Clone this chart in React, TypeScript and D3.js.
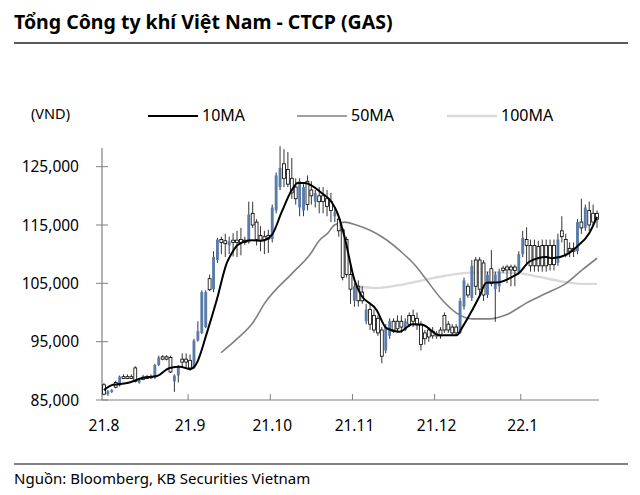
import React from "react";
import * as d3 from "d3";

// ---- data (prices in thousand VND) ----
const monthLabels = ["21.8", "21.9", "21.10", "21.11", "21.12", "22.1"];
const monthStartIndex = [0, 22, 43, 64, 85, 107];
const dayCount = 127;

const openK = [
  87.6, 86.0, 86.4, 88.0, 87.5, 89.0, 89.0, 89.0, 90.5, 88.0,
  88.9, 88.9, 89.0, 88.8, 91.0, 92.4, 92.4, 92.3, 88.2, 89.2,
  92.0, 92.0, 91.8, 90.5, 95.2, 96.5, 97.5, 105.8, 104.0, 109.0,
  112.5, 112.3, 111.5, 112.4, 112.4, 112.5, 112.4, 112.0, 117.0, 115.5,
  113.2, 113.0, 113.2, 112.6, 117.5, 121.5, 125.5, 124.5, 123.0, 121.5,
  118.0, 117.5, 122.5, 121.0, 119.0, 120.0, 120.0, 119.5, 119.0, 116.5,
  116.0, 114.2, 112.5, 106.5, 102.0, 104.5, 103.5, 98.5, 100.5, 99.5,
  99.0, 97.0, 93.5, 96.0, 98.5, 98.5, 98.5, 97.0, 99.5, 99.5,
  99.0, 98.0, 96.5, 97.0, 96.8, 95.8, 97.0, 99.5, 98.0, 97.5,
  97.5, 96.5, 101.0, 104.5, 102.5, 109.0, 109.0, 108.5, 103.0, 107.5,
  104.0, 104.5, 107.6, 107.8, 107.8, 107.8, 107.0, 110.0, 112.5, 111.5,
  111.5, 111.3, 111.5, 111.5, 111.5, 111.5, 108.5, 114.0, 112.5, 111.0,
  111.0, 110.5, 115.5, 114.5, 117.5, 117.0, 117.0,
];
const highK = [
  87.9, 86.7, 86.9, 88.3, 89.2, 89.4, 89.4, 89.4, 90.8, 88.6,
  89.3, 89.3, 89.4, 91.2, 92.6, 92.7, 92.7, 92.6, 89.4, 91.0,
  93.0, 93.0, 92.8, 95.5, 98.5, 103.8, 103.8, 106.5, 110.5, 112.8,
  113.0, 113.5, 113.0, 113.6, 114.0, 114.5, 113.0, 119.0, 119.0, 116.0,
  114.8, 114.0, 114.2, 118.5, 124.0, 128.5, 128.0, 127.5, 126.5, 123.0,
  123.0, 122.0, 123.5, 122.5, 121.0, 121.5, 121.5, 121.0, 120.5, 118.0,
  116.5, 114.5, 113.0, 108.0, 105.0, 105.5, 104.5, 101.5, 101.5, 100.5,
  99.5, 97.5, 98.0, 99.0, 99.0, 99.5, 99.5, 99.0, 100.0, 100.5,
  100.0, 98.5, 97.0, 97.5, 97.5, 96.8, 97.5, 100.0, 98.5, 98.0,
  98.0, 102.5, 106.0, 105.0, 109.0, 109.5, 109.5, 109.0, 107.0, 110.7,
  107.0, 107.5, 108.0, 108.2, 108.2, 108.2, 110.5, 114.0, 114.6, 112.5,
  112.5, 112.3, 112.5, 112.5, 112.5, 112.5, 113.5, 116.5, 113.5, 112.0,
  112.0, 116.0, 119.5, 118.5, 119.0, 118.5, 117.5,
];
const lowK = [
  85.8, 85.7, 86.2, 87.0, 87.3, 88.6, 88.6, 88.6, 88.0, 87.8,
  88.4, 88.6, 88.6, 88.6, 90.8, 91.8, 91.8, 89.6, 86.4, 88.0,
  90.5, 90.5, 90.0, 90.3, 95.0, 96.3, 97.3, 103.7, 103.5, 108.5,
  110.0, 109.5, 110.0, 109.6, 109.5, 109.8, 111.6, 111.8, 114.5, 111.5,
  110.5, 110.0, 110.2, 112.0, 117.0, 121.0, 121.5, 121.5, 119.5, 118.5,
  116.5, 116.5, 117.5, 118.5, 118.0, 117.0, 117.0, 116.5, 115.5, 115.5,
  113.0, 105.5, 106.0, 101.5, 101.0, 101.0, 101.5, 98.0, 97.0, 96.5,
  96.0, 91.3, 93.0, 95.5, 96.5, 96.5, 96.5, 96.8, 97.5, 97.5,
  97.0, 93.5, 94.5, 95.0, 95.5, 95.5, 95.5, 96.5, 96.5, 96.0,
  96.0, 96.3, 100.5, 102.5, 102.0, 103.0, 103.0, 102.0, 102.5, 104.5,
  98.4, 103.5, 106.8, 105.0, 104.5, 104.5, 106.5, 109.5, 108.0, 107.0,
  107.0, 107.0, 107.0, 107.0, 107.2, 107.2, 108.0, 112.0, 109.5, 109.5,
  109.5, 110.0, 113.5, 114.0, 114.0, 115.0, 114.5,
];
const closeK = [
  86.0, 86.5, 86.7, 87.2, 89.0, 88.7, 88.7, 88.7, 88.2, 88.4,
  88.5, 88.7, 88.8, 91.0, 92.3, 92.0, 92.0, 89.8, 89.2, 90.8,
  91.5, 91.5, 90.5, 95.2, 96.8, 103.5, 103.5, 103.9, 109.5, 112.5,
  112.0, 111.8, 112.2, 112.0, 112.0, 112.0, 112.0, 116.8, 115.0, 112.5,
  112.4, 112.5, 112.6, 118.0, 123.5, 124.8, 123.0, 122.0, 120.5, 119.5,
  122.5, 121.5, 118.5, 120.0, 120.5, 119.0, 119.0, 118.2, 117.5, 117.2,
  114.0, 106.0, 106.5, 104.0, 104.5, 102.0, 102.0, 100.5, 98.0, 97.0,
  96.5, 92.5, 97.5, 98.5, 97.0, 97.2, 97.5, 98.5, 98.0, 98.5,
  98.0, 94.5, 95.5, 95.8, 96.0, 96.5, 96.0, 97.0, 97.0, 96.5,
  96.5, 102.0, 105.5, 103.0, 108.0, 104.5, 104.0, 103.0, 106.5, 105.0,
  106.5, 107.0, 107.2, 107.3, 107.3, 107.2, 110.0, 112.8, 111.5, 108.0,
  108.0, 108.0, 108.0, 108.0, 108.2, 108.2, 112.5, 113.0, 110.0, 110.5,
  110.5, 115.5, 114.5, 118.0, 115.0, 115.5, 116.0,
];

// moving averages: [day index, value]
const ma10Day = [0, 2.3, 5.9, 10, 13.5, 16.8, 19.4, 22, 23.7, 26.3, 28.8, 31.4, 32.7, 34.2, 37.8, 40.3, 42.9, 45.4, 48, 49.5, 51.3, 55.6, 58.2, 59.7, 61.5, 64, 65.3, 69.7, 72.2, 75.5, 78.8, 81.4, 85.7, 90.1, 91.6, 94.1, 95.9, 97.7, 101, 104.3, 106.1, 108.7, 113, 114.5, 118.1, 120.7, 124, 126];
const ma10Val = [86.7, 87.6, 87.9, 88.8, 89.1, 90.5, 90.7, 90.3, 91.3, 96.5, 102.1, 108.5, 110.2, 111.6, 112.4, 112.3, 113.3, 117.2, 121.0, 122.2, 122.2, 120.5, 118.9, 117.0, 112.9, 105.6, 103.5, 100.4, 97.3, 96.7, 98.0, 97.9, 96.1, 96.1, 97.5, 100.4, 102.7, 105.1, 105.2, 106.1, 106.8, 108.7, 109.5, 109.3, 109.9, 111.2, 113.6, 116.4];
const ma50Day = [29.9, 34.2, 38, 41.1, 48.2, 52.6, 55.1, 57.2, 58.9, 61.5, 64.5, 71.2, 76.3, 79.9, 82.4, 86.5, 90.1, 94.1, 98.5, 102.8, 107.9, 113, 118.1, 122.2, 126];
const ma50Val = [93.1, 95.6, 98.2, 101.6, 106.8, 109.9, 112.4, 113.6, 115.0, 115.5, 115.0, 112.9, 110.2, 107.8, 105.6, 102.1, 99.9, 98.9, 98.9, 99.6, 101.6, 103.3, 105.0, 107.3, 109.3];
const ma100Day = [64.5, 69.7, 75.5, 84, 92.6, 97.7, 105.4, 111.2, 118.1, 122.2, 126];
const ma100Val = [104.5, 104.2, 104.7, 105.9, 106.8, 106.9, 106.8, 106.1, 105.2, 104.9, 104.9];

const yTicksK = [85, 95, 105, 115, 125];
const legendLabels = ["10MA", "50MA", "100MA"];
const legendColors = ["#000000", "#808080", "#d9d9d9"];
const titleText = "Tổng Công ty khí Việt Nam - CTCP (GAS)";
const unitText = "(VND)";
const sourceText = "Nguồn: Bloomberg, KB Securities Vietnam";

const FONT = "'Noto Sans', sans-serif";
const UP = "#5b7ca8";

export default function App() {
  const x = d3.scaleLinear().domain([0, dayCount]).range([102, 599]);
  const y = d3.scaleLinear().domain([85, 128.2]).range([400, 148]);
  const step = x(1) - x(0);
  const bw = step * 0.74;
  const fmt = d3.format(",");

  const line = d3
    .line<[number, number]>()
    .x((d) => x(d[0] + 0.5))
    .y((d) => y(d[1]))
    .curve(d3.curveMonotoneX);

  const zip = (a: number[], b: number[]) => a.map((v, i) => [v, b[i]] as [number, number]);

  const candles = d3.range(dayCount).map((i) => ({
    i,
    o: openK[i],
    h: highK[i],
    l: lowK[i],
    c: closeK[i],
  }));

  const legendX = [148, 297, 447];

  return (
    <svg
      width={640}
      height={495}
      style={{ position: "absolute", left: 0, top: 0, background: "#fff" }}
      fontFamily={FONT}
    >
      <text x={14} y={29} fontSize={19.5} fontWeight="bold" fill="#000">
        {titleText}
      </text>
      <line x1={14} x2={628} y1={43} y2={43} stroke="#595959" strokeWidth={2} />

      <text x={31} y={119} fontSize={14.5} fill="#000">
        {unitText}
      </text>
      {legendLabels.map((lab, k) => (
        <g key={lab}>
          <line
            x1={legendX[k]}
            x2={legendX[k] + 50}
            y1={116}
            y2={116}
            stroke={legendColors[k]}
            strokeWidth={k === 0 ? 2 : k === 1 ? 1.6 : 2.4}
          />
          <text x={legendX[k] + 54} y={121} fontSize={16} fill="#000">
            {lab}
          </text>
        </g>
      ))}

      {/* axes */}
      <line x1={x(0)} x2={x(0)} y1={y(128.2)} y2={y(85)} stroke="#808080" strokeWidth={1.2} />
      <line x1={x(0)} x2={x(dayCount)} y1={y(85)} y2={y(85)} stroke="#808080" strokeWidth={1.2} />
      {yTicksK.map((t) => (
        <g key={t}>
          <line x1={x(0) - 6} x2={x(0) + 6} y1={y(t)} y2={y(t)} stroke="#808080" strokeWidth={1} />
          <text x={79} y={y(t) + 5.5} fontSize={15.5} textAnchor="end" fill="#000">
            {fmt(t * 1000)}
          </text>
        </g>
      ))}
      {monthStartIndex.map((m, k) => (
        <g key={m}>
          {k > 0 && (
            <line x1={x(m)} x2={x(m)} y1={y(85)} y2={y(85) - 6} stroke="#808080" strokeWidth={1} />
          )}
          <text x={x(m) + 2} y={431} fontSize={15.5} textAnchor="middle" fill="#000">
            {monthLabels[k]}
          </text>
        </g>
      ))}

      {/* long MAs */}
      <path d={line(zip(ma100Day, ma100Val)) || ""} fill="none" stroke="#d9d9d9" strokeWidth={2.4} />
      <path d={line(zip(ma50Day, ma50Val)) || ""} fill="none" stroke="#808080" strokeWidth={1.6} />

      {/* candles */}
      {candles.map((d) => {
        const cx = x(d.i + 0.5);
        const up = d.c >= d.o;
        const top = y(Math.max(d.o, d.c));
        const bot = y(Math.min(d.o, d.c));
        return (
          <g key={d.i}>
            <line x1={cx} x2={cx} y1={y(d.h)} y2={y(d.l)} stroke="#000" strokeWidth={0.8} />
            {up ? (
              <rect x={cx - bw / 2} y={top} width={bw} height={Math.max(bot - top, 1)} fill={UP} />
            ) : (
              <rect
                x={cx - bw / 2}
                y={top}
                width={bw}
                height={Math.max(bot - top, 1)}
                fill="#fff"
                stroke="#000"
                strokeWidth={0.8}
              />
            )}
          </g>
        );
      })}

      <path d={line(zip(ma10Day, ma10Val)) || ""} fill="none" stroke="#000" strokeWidth={2} />

      <line x1={14} x2={628} y1={464} y2={464} stroke="#595959" strokeWidth={1.5} />
      <text x={14} y={484} fontSize={15} fill="#000">
        {sourceText}
      </text>
    </svg>
  );
}
